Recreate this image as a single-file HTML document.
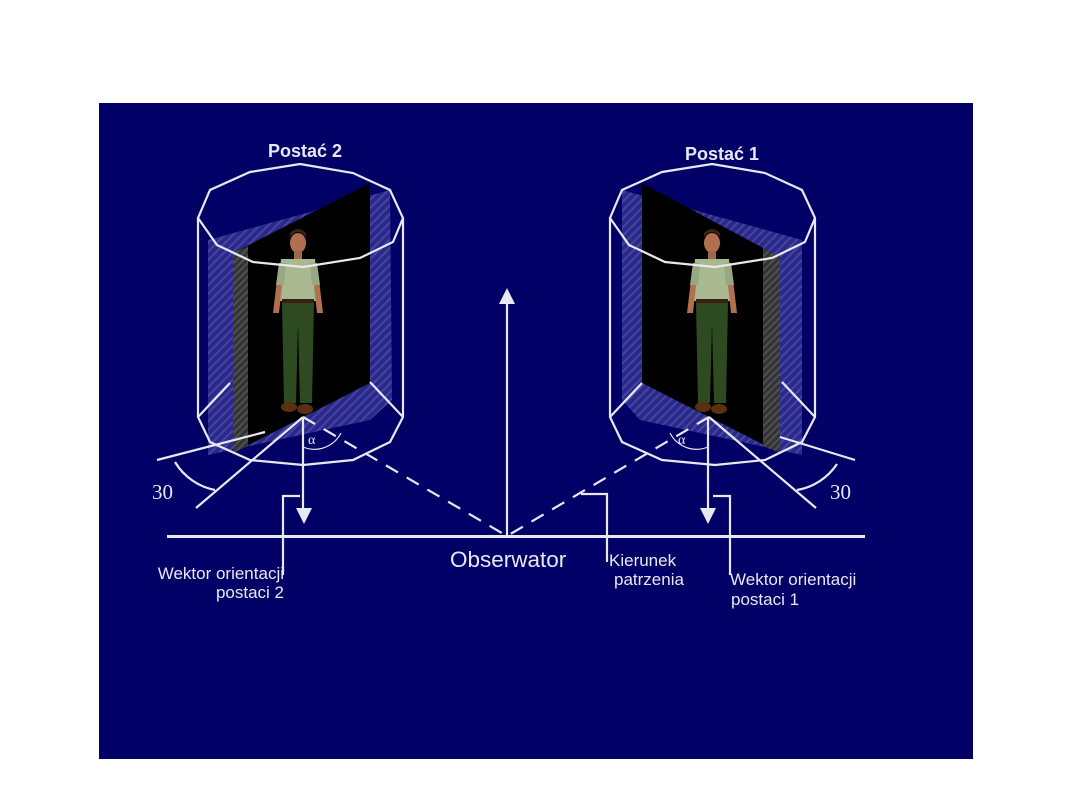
<!DOCTYPE html>
<html><head><meta charset="utf-8"><style>
html,body{margin:0;padding:0;background:#fff;width:1080px;height:810px;overflow:hidden}
svg{display:block}
text{font-family:"Liberation Sans",sans-serif;fill:#e8e8f0}
</style></head><body>
<svg width="1080" height="810" viewBox="0 0 1080 810" xmlns="http://www.w3.org/2000/svg">
<defs>
<pattern id="h" width="6" height="6" patternUnits="userSpaceOnUse" patternTransform="rotate(45)">
<rect width="6" height="6" fill="#3a3a9c"/><rect width="2" height="6" fill="#6262b8"/>
</pattern>
<pattern id="g" width="5" height="5" patternUnits="userSpaceOnUse" patternTransform="rotate(45)">
<rect width="5" height="5" fill="#333"/><rect width="2" height="5" fill="#505050"/>
</pattern>
<g id="man">
<ellipse cx="0" cy="-174" rx="8" ry="10" fill="#b07050"/>
<path d="M-8,-180 q8,-10 16,0 v-4 q-8,-8 -16,0z" fill="#3a2418"/>
<rect x="-4" y="-166" width="8" height="8" fill="#a06848"/>
<path d="M-17,-158 h34 l3,42 h-40z" fill="#a8b890"/>
<path d="M-19,-154 l-6,50 h6 l5,-46z M19,-154 l6,50 h-6 l-5,-46z" fill="#b07050"/>
<path d="M-19,-154 l-3,22 h8 l2,-22z M19,-154 l3,22 h-8 l-2,-22z" fill="#98a880"/>
<rect x="-16" y="-118" width="32" height="4" fill="#3a2010"/>
<path d="M-16,-114 h32 l-2,100 h-12 l-2,-80 l-2,80 h-12z" fill="#2e4a20"/>
<ellipse cx="-9" cy="-10" rx="8" ry="5" fill="#5a3010"/>
<ellipse cx="7" cy="-8" rx="8" ry="5" fill="#5a3010"/>
</g>
</defs>
<rect x="99" y="103" width="874" height="656" fill="#000066"/>

<!-- LEFT cylinder -->
<g>
<polygon points="208,240 390,190 392,400 370,420 208,455" fill="url(#h)" opacity="0.7"/>
<polygon points="233,253 370,183 370,383 233,453" fill="#000"/>
<polygon points="233,253 248,246 248,446 233,453" fill="url(#g)"/>
<use href="#man" x="298" y="417"/>
<g fill="none" stroke="#e8e8f0" stroke-width="2.2">
<polygon points="300,164 353,173 390,190 403,218 393,242 360,258 303,267 253,262 217,245 198,218 210,190 250,172"/>
<polyline points="198,218 198,417 210,442 250,460 303,465 353,460 390,442 403,417 403,218"/>
<polyline points="198,417 230,383"/>
<polyline points="403,417 370,382"/>
<line x1="303" y1="417" x2="196" y2="508"/>
<line x1="157" y1="460" x2="265" y2="432"/>
<path d="M175,462 A60,60 0 0 0 215,490"/>
<line x1="303" y1="417" x2="303" y2="508"/>
<path d="M303,447 A30,30 0 0 0 341,433" stroke-width="1.2"/>
<line x1="303" y1="417" x2="507" y2="536" stroke-dasharray="14,10"/>
<polyline points="300,496 283,496 283,575"/>
</g>
<polygon points="296,508 312,508 304,524" fill="#e8e8f0"/>
<text x="308" y="444" font-size="14" style="font-family:'Liberation Serif',serif">α</text>
<text x="152" y="499" font-size="21" style="font-family:'Liberation Serif',serif">30</text>
</g>

<!-- RIGHT cylinder -->
<g>
<polygon points="622,190 802,240 802,455 640,420 622,400" fill="url(#h)" opacity="0.7"/>
<polygon points="642,183 780,257 780,453 642,383" fill="#000"/>
<polygon points="763,248 780,257 780,453 763,446" fill="url(#g)"/>
<use href="#man" x="712" y="417"/>
<g fill="none" stroke="#e8e8f0" stroke-width="2.2">
<polygon points="712,164 765,173 802,190 815,218 805,242 772,258 715,267 665,262 629,245 610,218 622,190 662,172"/>
<polyline points="610,218 610,417 622,442 662,460 715,465 765,460 802,442 815,417 815,218"/>
<polyline points="610,417 642,383"/>
<polyline points="815,417 782,382"/>
<line x1="709" y1="417" x2="816" y2="508"/>
<line x1="780" y1="437" x2="855" y2="460"/>
<path d="M837,464 A60,60 0 0 1 797,490"/>
<line x1="708" y1="417" x2="708" y2="508"/>
<path d="M708,447 A30,30 0 0 1 670,433" stroke-width="1.2"/>
<line x1="709" y1="417" x2="507" y2="536" stroke-dasharray="14,10"/>
<polyline points="713,496 730,496 730,575"/>
<polyline points="581,494 607,494 607,562"/>
</g>
<polygon points="700,508 716,508 708,524" fill="#e8e8f0"/>
<text x="678" y="444" font-size="14" style="font-family:'Liberation Serif',serif">α</text>
<text x="830" y="499" font-size="21" style="font-family:'Liberation Serif',serif">30</text>
</g>

<!-- center -->
<line x1="167" y1="536.5" x2="865" y2="536.5" stroke="#e8e8f0" stroke-width="3"/>
<line x1="507" y1="536" x2="507" y2="300" stroke="#e8e8f0" stroke-width="2.2"/>
<polygon points="499,304 515,304 507,288" fill="#e8e8f0"/>

<text x="268" y="157" font-size="18" font-weight="bold">Postać 2</text>
<text x="685" y="160" font-size="18" font-weight="bold">Postać 1</text>
<text x="450" y="567" font-size="22.5">Obserwator</text>
<text x="284" y="579" font-size="17" text-anchor="end">Wektor orientacji</text>
<text x="284" y="598" font-size="17" text-anchor="end">postaci 2</text>
<text x="609" y="566" font-size="17">Kierunek</text>
<text x="614" y="585" font-size="17">patrzenia</text>
<text x="730" y="585" font-size="17">Wektor orientacji</text>
<text x="731" y="605" font-size="17">postaci 1</text>
</svg>
</body></html>
